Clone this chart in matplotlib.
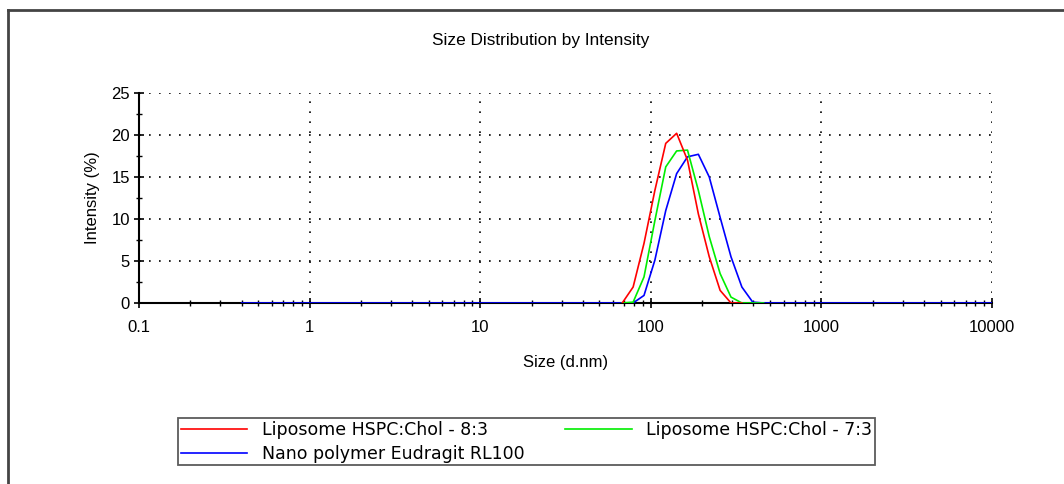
import matplotlib
matplotlib.use("Agg")
import matplotlib.pyplot as plt
from matplotlib.lines import Line2D
from matplotlib.ticker import LogLocator, FixedLocator, NullFormatter

plt.rcParams['font.family'] = ['Liberation Sans', 'DejaVu Sans']

# size bins (d.nm)
sizes = [0.4000, 0.4632, 0.5365, 0.6213, 0.7195, 0.8332, 0.9649, 1.117, 1.294, 1.499,
         1.736, 2.010, 2.328, 2.696, 3.122, 3.615, 4.187, 4.849, 5.615, 6.503,
         7.531, 8.721, 10.10, 11.70, 13.54, 15.69, 18.17, 21.04, 24.36, 28.21,
         32.67, 37.84, 43.82, 50.75, 58.77, 68.06, 78.82, 91.28, 105.7, 122.4,
         141.8, 164.2, 190.1, 220.2, 255.0, 295.3, 342.0, 396.1, 458.7, 531.2,
         615.1, 712.4, 825.0, 955.4, 1106, 1281, 1484, 1718, 1990, 2305,
         2669, 3091, 3580, 4145, 4801, 5560, 6439, 7456, 8635, 10000]

# Liposome HSPC:Chol 8:3, bins 68.06 .. 342.0
red_sizes = sizes[35:47]
red_vals = [0.0, 1.9, 7.1, 13.4, 19.0, 20.2, 17.0, 10.6, 5.5, 1.5, 0.0, 0.0]

# Liposome HSPC:Chol 7:3, bins 68.06 .. 458.7
green_sizes = sizes[35:49]
green_vals = [0.0, 0.1, 3.1, 9.8, 16.2, 18.1, 18.2, 13.4, 7.9, 3.5, 0.7, 0.0, 0.0, 0.0]

# Nano polymer Eudragit RL100, all bins
blue_vals = [0.0] * 37 + [0.9, 5.1, 11.0, 15.4, 17.4, 17.7, 15.0, 10.2, 5.5, 1.9, 0.1] + [0.0] * 22

fig = plt.figure(figsize=(10.64, 4.84), dpi=100)
ax = fig.add_axes([0.1306, 0.374, 0.8017, 0.4339])

ax.plot(sizes, blue_vals, color='#0000ff', lw=1.2, label='Nano polymer Eudragit RL100', zorder=3)
ax.plot(green_sizes, green_vals, color='#00ee00', lw=1.2, label='Liposome HSPC:Chol - 7:3', zorder=4)
ax.plot(red_sizes, red_vals, color='#ff0000', lw=1.2, label='Liposome HSPC:Chol - 8:3', zorder=5)

ax.set_xscale('log')
ax.set_xlim(0.1, 10000)
ax.set_ylim(0, 25)
ax.set_xticks([0.1, 1, 10, 100, 1000, 10000])
ax.set_xticklabels(['0.1', '1', '10', '100', '1000', '10000'])
ax.xaxis.set_minor_locator(LogLocator(base=10, subs=range(2, 10)))
ax.xaxis.set_minor_formatter(NullFormatter())
ax.set_yticks([0, 5, 10, 15, 20, 25])
ax.yaxis.set_minor_locator(FixedLocator([2.5, 7.5, 12.5, 17.5, 22.5]))

ax.tick_params(which='major', direction='inout', length=7, width=1.2, labelsize=12)
ax.tick_params(axis='x', which='major', pad=9)
ax.tick_params(axis='y', which='major', pad=3)
ax.tick_params(which='minor', direction='inout', length=5, width=1.0)
ax.spines['top'].set_visible(False)
ax.spines['right'].set_visible(False)
ax.spines['left'].set_linewidth(1.5)
ax.spines['bottom'].set_linewidth(1.5)

ax.grid(True, which='major', color='black', linestyle=(0, (1, 5)), linewidth=1.2)
ax.set_axisbelow(True)

fig.text(541 / 1064, 1 - 41 / 484, 'Size Distribution by Intensity', fontsize=12.4, ha='center', va='center')
ax.set_xlabel('Size (d.nm)', fontsize=12, labelpad=14)
ax.set_ylabel('Intensity (%)', fontsize=12, labelpad=8)

h, l = ax.get_legend_handles_labels()
order = [2, 0, 1]
leg = fig.legend([h[i] for i in order], [l[i] for i in order], ncol=2,
                 loc='upper left', bbox_to_anchor=(178 / 1064, 1 - 418 / 484),
                 borderaxespad=0, frameon=True, fancybox=False, edgecolor='#333333',
                 handlelength=3.85, prop={'family': 'DejaVu Sans', 'size': 12.5},
                 borderpad=0.15, labelspacing=0.35, columnspacing=2.3, handletextpad=0.85)
leg.get_frame().set_linewidth(1.3)

# outer frame (top and left only)
fig.add_artist(Line2D([8 / 1064, 8 / 1064], [0, 1 - 10 / 484], transform=fig.transFigure, color='#444444', lw=2))
fig.add_artist(Line2D([8 / 1064, 1], [1 - 10 / 484, 1 - 10 / 484], transform=fig.transFigure, color='#444444', lw=2))

fig.savefig('out.png', dpi=100)
